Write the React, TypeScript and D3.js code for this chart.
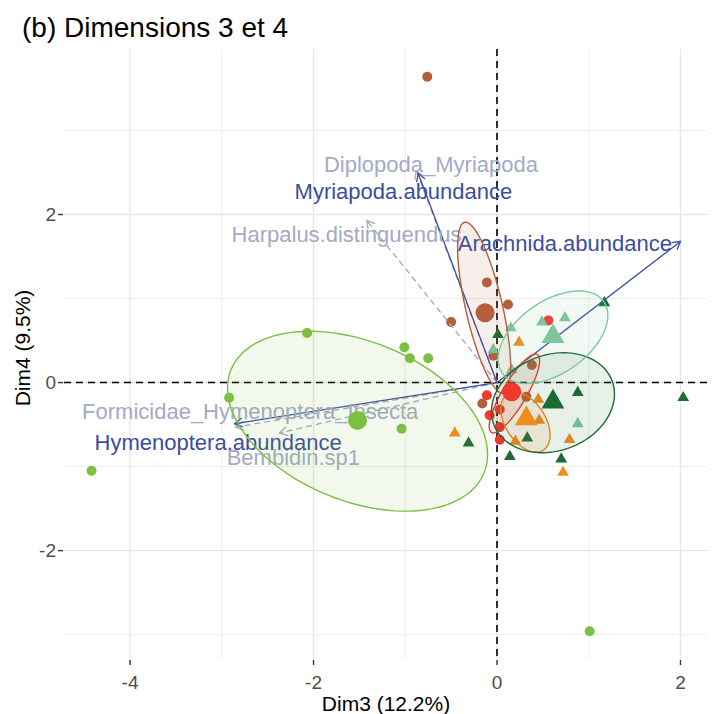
import * as d3 from 'd3';

// individuals per group (Dim3, Dim4)
const groupNames = ['G1', 'G2', 'G3', 'G4', 'G5', 'G6'];
const groupColors = ['#b35f3b', '#ef3a2b', '#7cc043', '#f08c1d', '#1c6a34', '#7cc79e'];
const groupShapes = ['circle', 'circle', 'circle', 'triangle', 'triangle', 'triangle'];

const g1Pts: [number, number][] = [[-0.76, 3.64], [-0.11, 1.19], [0.12, 0.93], [-0.5, 0.72], [-0.04, 0.32], [0.38, 0.21], [-0.16, -0.25], [0.32, -0.17]];
const g2Pts: [number, number][] = [[-0.11, -0.15], [-0.08, -0.39], [0.03, -0.32], [0.03, -0.53], [0.03, -0.68], [0.56, 0.74]];
const g3Pts: [number, number][] = [[-4.42, -1.05], [-2.92, -0.18], [-2.07, 0.59], [-1.01, 0.42], [-0.95, 0.29], [-0.75, 0.29], [-1.04, -0.55], [1.01, -2.96]];
const g4Pts: [number, number][] = [[0.24, 0.48], [0.45, -0.2], [0.46, -0.45], [-0.46, -0.6], [0.2, -0.7], [0.79, -0.68], [0.72, -1.07]];
const g5Pts: [number, number][] = [[0.01, 0.57], [1.17, 0.95], [2.03, -0.18], [0.88, -0.12], [0.7, -0.91], [-0.31, -0.72], [0.33, -0.66], [0.14, -0.88]];
const g6Pts: [number, number][] = [[0.15, 0.65], [-0.04, 0.39], [0.49, 0.72], [0.74, 0.77], [0.88, -0.49], [0.16, 0.15]];
const groupPts = [g1Pts, g2Pts, g3Pts, g4Pts, g5Pts, g6Pts];

// group means
const meanX = [-0.13, 0.16, -1.52, 0.32, 0.61, 0.61];
const meanY = [0.83, -0.11, -0.45, -0.43, -0.23, 0.55];

// concentration ellipses: centre + two half-axis vectors (data units)
const ellCx = [-0.14, 0.19, -1.52, 0.31, 0.61, 0.61];
const ellCy = [0.89, -0.13, -0.46, -0.47, -0.24, 0.54];
const ellU: [number, number][] = [[-0.213, 1.018], [0.251, 0.464], [1.379, -0.614], [0.196, -0.333], [0.646, 0.256], [0.554, 0.424]];
const ellV: [number, number][] = [[0.196, 0.049], [0.112, -0.073], [-0.328, -0.877], [0.183, 0.129], [0.179, -0.537], [0.226, -0.351]];

// active variables
const activeVars = ['Myriapoda.abundance', 'Arachnida.abundance', 'Hymenoptera.abundance'];
const activeX = [-0.86, 2.0, -2.86];
const activeY = [2.49, 1.68, -0.49];
const activeLabX = [-1.02, 0.74, -3.04];
const activeLabY = [2.27, 1.66, -0.71];

// supplementary variables
const supVars = ['Diplopoda_Myriapoda', 'Harpalus.distinguendus', 'Formicidae_Hymenoptera_Insecta', 'Bembidin.sp1'];
const supX = [-0.88, -1.42, -2.85, -2.37];
const supY = [2.52, 1.93, -0.53, -0.6];
const supLabX = [-0.72, -1.64, -2.69, -2.22];
const supLabY = [2.59, 1.76, -0.35, -0.89];

const xMajor = [-4, -2, 0, 2];
const xMinor = [-3, -1, 1];
const yMajor = [-2, 0, 2];
const yMinor = [-3, -1, 1, 3];

const W = 712;
const H = 714;
const left = 64, right = 708, top = 49, bottom = 659;
const font = '"Liberation Sans", Arial, sans-serif';

function arrowHead(x1: number, y1: number, x2: number, y2: number, len = 9) {
  const a = Math.atan2(y2 - y1, x2 - x1);
  const s = Math.PI / 6;
  const p1 = [x2 - len * Math.cos(a - s), y2 - len * Math.sin(a - s)];
  const p2 = [x2 - len * Math.cos(a + s), y2 - len * Math.sin(a + s)];
  return `M${p1[0]},${p1[1]}L${x2},${y2}L${p2[0]},${p2[1]}`;
}

export default function App() {
  const x = d3.scaleLinear().domain([-4.72, 2.3]).range([left, right]);
  const y = d3.scaleLinear().domain([-3.29, 3.97]).range([bottom, top]);

  const ts = d3.range(0, 2 * Math.PI, Math.PI / 60);
  const ellLine = d3.line<number[]>().x(d => x(d[0])).y(d => y(d[1])).curve(d3.curveLinearClosed);
  const ellPaths = groupNames.map((_, i) =>
    ellLine(ts.map(t => [
      ellCx[i] + ellU[i][0] * Math.cos(t) + ellV[i][0] * Math.sin(t),
      ellCy[i] + ellU[i][1] * Math.cos(t) + ellV[i][1] * Math.sin(t),
    ])) as string
  );

  const triSmall = d3.symbol(d3.symbolTriangle, 60)() as string;
  const triBig = d3.symbol(d3.symbolTriangle, 225)() as string;

  const x0 = x(0), y0 = y(0);

  return (
    <div style={{ position: 'absolute', left: 0, top: 0 }}>
      <svg width={W} height={H} style={{ display: 'block', background: '#fff' }} fontFamily={font}>
        {/* grid */}
        {xMinor.map(v => <line key={'xm' + v} x1={x(v)} x2={x(v)} y1={top} y2={bottom} stroke="#ebebeb" strokeWidth={0.8} />)}
        {yMinor.map(v => <line key={'ym' + v} y1={y(v)} y2={y(v)} x1={left} x2={right} stroke="#ebebeb" strokeWidth={0.8} />)}
        {xMajor.map(v => <line key={'xM' + v} x1={x(v)} x2={x(v)} y1={top} y2={bottom} stroke="#e6e6e6" strokeWidth={1.4} />)}
        {yMajor.map(v => <line key={'yM' + v} y1={y(v)} y2={y(v)} x1={left} x2={right} stroke="#e6e6e6" strokeWidth={1.4} />)}

        {/* ticks */}
        {xMajor.map(v => (
          <g key={'xt' + v}>
            <line x1={x(v)} x2={x(v)} y1={bottom + 1} y2={bottom + 6} stroke="#333" strokeWidth={1.4} />
            <text x={x(v)} y={bottom + 23} textAnchor="middle" dominantBaseline="central" fontSize={19} fill="#4d4d4d">{v}</text>
          </g>
        ))}
        {yMajor.map(v => (
          <g key={'yt' + v}>
            <line x1={left - 6} x2={left - 1} y1={y(v)} y2={y(v)} stroke="#333" strokeWidth={1.4} />
            <text x={left - 8} y={y(v)} textAnchor="end" dominantBaseline="central" fontSize={19} fill="#4d4d4d">{v}</text>
          </g>
        ))}

        {/* reference lines */}
        <line x1={x0} x2={x0} y1={top} y2={bottom} stroke="#000" strokeWidth={1.6} strokeDasharray="7,5" />
        <line x1={left} x2={right} y1={y0} y2={y0} stroke="#000" strokeWidth={1.6} strokeDasharray="7,5" />

        {/* individuals */}
        {groupPts.map((pts, gi) =>
          pts.map((p, j) =>
            groupShapes[gi] === 'circle'
              ? <circle key={`p${gi}-${j}`} cx={x(p[0])} cy={y(p[1])} r={5} fill={groupColors[gi]} />
              : <path key={`p${gi}-${j}`} d={triSmall} transform={`translate(${x(p[0])},${y(p[1])})`} fill={groupColors[gi]} />
          )
        )}

        {/* supplementary variables */}
        {supVars.map((v, i) => (
          <g key={v}>
            <line x1={x0} y1={y0} x2={x(supX[i])} y2={y(supY[i])} stroke="#a3a6bc" strokeWidth={1.3} strokeDasharray="6,4" />
            <path d={arrowHead(x0, y0, x(supX[i]), y(supY[i]))} fill="none" stroke="#a3a6bc" strokeWidth={1.3} />
          </g>
        ))}
        {/* active variables */}
        {activeVars.map((v, i) => (
          <g key={v}>
            <line x1={x0} y1={y0} x2={x(activeX[i])} y2={y(activeY[i])} stroke="#3b4da0" strokeWidth={1.3} />
            <path d={arrowHead(x0, y0, x(activeX[i]), y(activeY[i]))} fill="none" stroke="#3b4da0" strokeWidth={1.3} />
          </g>
        ))}
        {supVars.map((v, i) => (
          <text key={'sl' + v} x={x(supLabX[i])} y={y(supLabY[i])} textAnchor="middle" dominantBaseline="central" fontSize={22} fill="#a4a9c6">{v}</text>
        ))}
        {activeVars.map((v, i) => (
          <text key={'al' + v} x={x(activeLabX[i])} y={y(activeLabY[i])} textAnchor="middle" dominantBaseline="central" fontSize={22} fill="#3b4da0">{v}</text>
        ))}

        {/* ellipses */}
        {ellPaths.map((d, i) => (
          <path key={'e' + i} d={d} fill={groupColors[i]} fillOpacity={0.1} stroke={groupColors[i]} strokeWidth={1.4} />
        ))}

        {/* group means */}
        {groupNames.map((g, i) =>
          groupShapes[i] === 'circle'
            ? <circle key={'m' + g} cx={x(meanX[i])} cy={y(meanY[i])} r={9.5} fill={groupColors[i]} />
            : <path key={'m' + g} d={triBig} transform={`translate(${x(meanX[i])},${y(meanY[i])})`} fill={groupColors[i]} />
        )}

        {/* titles */}
        <text x={22} y={37} fontSize={28} fill="#000">(b) Dimensions 3 et 4</text>
        <text x={(left + right) / 2} y={703} textAnchor="middle" dominantBaseline="central" fontSize={21} fill="#000">Dim3 (12.2%)</text>
        <text transform={`translate(22,${(top + bottom) / 2 - 6}) rotate(-90)`} textAnchor="middle" dominantBaseline="central" fontSize={21} fill="#000">Dim4 (9.5%)</text>
      </svg>
    </div>
  );
}
